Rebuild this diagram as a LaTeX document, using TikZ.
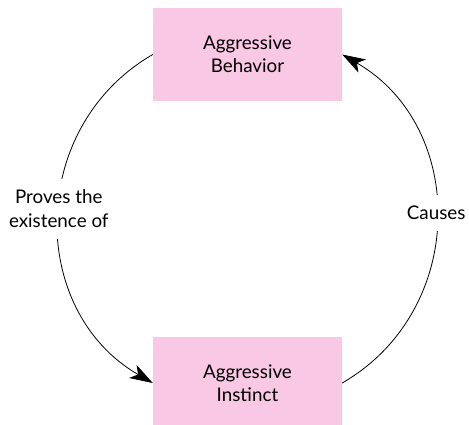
\documentclass[tikz,border=0pt]{standalone}
\usepackage{fontspec}
\setmainfont{Lato}
\usetikzlibrary{arrows.meta}
\definecolor{boxpink}{RGB}{248,200,228}

\begin{document}
\begin{tikzpicture}[x=1pt, y=-1pt,
    box/.style={fill=boxpink, minimum width=189pt, minimum height=93pt,
      inner sep=0pt, align=center, font=\fontsize{18.8}{23}\selectfont},
    lbl/.style={fill=white, align=center, inner xsep=2pt, inner ysep=11pt,
      font=\fontsize{18.8}{24}\selectfont},
    loop/.style={line width=0.8pt, -{Stealth[length=23pt, width=15pt, inset=6pt]}}]
  \useasboundingbox (0,0) rectangle (469,425);
  % boxes
  \node[box] (beh) at (247.5,54.5) {Aggressive\\Behavior};
  \node[box] (inst) at (247.5,383) {Aggressive\\Instinct};
  % the loop
  \draw[loop] (beh.west) to[bend right=60, looseness=1.13]
    node[lbl, yshift=10pt] {Proves the\\existence of} (inst.west);
  \draw[loop] (inst.east) to[bend right=60, looseness=1.13]
    node[lbl, yshift=6pt] {Causes} (beh.east);
\end{tikzpicture}
\end{document}
